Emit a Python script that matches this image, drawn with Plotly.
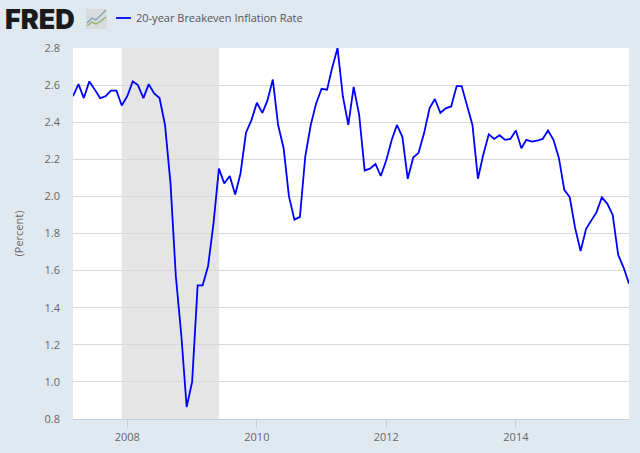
import pandas as pd
import plotly.graph_objects as go

# monthly readings, Mar 2007 - Oct 2015
startMonth = "2007-03-01"
endMonth = "2015-10-01"
rate = [
    2.54, 2.605, 2.53, 2.62, 2.577, 2.53, 2.54, 2.57, 2.57, 2.49,
    2.54, 2.62, 2.60, 2.53, 2.605, 2.555, 2.53, 2.385, 2.07, 1.57,
    1.25, 0.865, 1.0, 1.52, 1.52, 1.625, 1.85, 2.15, 2.07, 2.11,
    2.01, 2.125, 2.345, 2.41, 2.505, 2.45, 2.515, 2.63, 2.385, 2.26,
    2.0, 1.875, 1.89, 2.215, 2.385, 2.50, 2.58, 2.575, 2.69, 2.8,
    2.54, 2.385, 2.59, 2.44, 2.14, 2.15, 2.175, 2.11, 2.195, 2.305,
    2.385, 2.32, 2.095, 2.21, 2.235, 2.34, 2.475, 2.525, 2.45, 2.475,
    2.485, 2.595, 2.595, 2.485, 2.385, 2.095, 2.225, 2.335, 2.31, 2.33,
    2.305, 2.31, 2.355, 2.26, 2.305, 2.295, 2.30, 2.31, 2.355, 2.305,
    2.205, 2.035, 1.995, 1.83, 1.705, 1.825, 1.865, 1.915, 1.995, 1.96,
    1.90, 1.685, 1.615, 1.53,
]
months = pd.date_range(startMonth, periods=len(rate), freq="MS")

recessionStart = "2007-12-01"
recessionEnd = "2009-06-01"
seriesName = "20-year Breakeven Inflation Rate"
yTicks = [0.8, 1.0, 1.2, 1.4, 1.6, 1.8, 2.0, 2.2, 2.4, 2.6, 2.8]

W = 640
H = 453
marginL = 73
marginR = 10.5
marginT = 48
marginB = 34
bgColor = "#e1e9f0"
textColor = "#666666"
fontName = "Open Sans"


# paper coords run over the plot area, so convert from page pixels
def px(x):
    return (x - marginL) / (W - marginL - marginR)


def py(y):
    return 1 - (y - marginT) / (H - marginT - marginB)


fig = go.Figure()
fig.add_trace(go.Scatter(x=months, y=rate, mode="lines", name=seriesName,
                         line=dict(color="#0000ff", width=1.8), showlegend=False))

# recession band
fig.add_shape(type="rect", xref="x", yref="paper", x0=recessionStart, x1=recessionEnd,
              y0=0, y1=1, fillcolor="#e5e5e5", line_width=0, layer="below")

# legend key + label, drawn by hand since the plotly key is too long
fig.add_shape(type="line", xref="paper", yref="paper", x0=px(116), x1=px(131), y0=py(18), y1=py(18),
              line=dict(color="#0000ff", width=1.8))
fig.add_annotation(xref="paper", yref="paper", x=px(136), y=py(18), text=seriesName, showarrow=False,
                   xanchor="left", yanchor="middle", xshift=-2, font=dict(family=fontName, size=11, color="#555555"))

# logo
fig.add_annotation(xref="paper", yref="paper", x=px(5), y=py(19), text="FRED", showarrow=False,
                   xanchor="left", yanchor="middle", xshift=-2,
                   font=dict(family="Inter", size=27, weight=900, color="#1a1a1a"))
fig.add_shape(type="rect", xref="paper", yref="paper", x0=px(86), x1=px(107), y0=py(9), y1=py(29),
              fillcolor="#d8dcdc", line_width=0)
fig.add_shape(type="path", xref="paper", yref="paper",
              path=f"M {px(87)} {py(23)} L {px(92)} {py(18)} L {px(96)} {py(20)} L {px(101)} {py(15)} L {px(106)} {py(10)}",
              line=dict(color="#7f9fb5", width=1.2))
fig.add_shape(type="path", xref="paper", yref="paper",
              path=f"M {px(87)} {py(26)} L {px(92)} {py(22)} L {px(96)} {py(24)} L {px(101)} {py(21)} L {px(106)} {py(17)}",
              line=dict(color="#8fae6f", width=1.2))

fig.update_layout(
    width=W, height=H, autosize=False,
    margin=dict(l=marginL, r=marginR, t=marginT, b=marginB, pad=0),
    paper_bgcolor=bgColor, plot_bgcolor="#ffffff",
    font=dict(family=fontName, size=11, color=textColor),
    xaxis=dict(range=[startMonth, endMonth], tick0="2008-01-01", dtick="M24", tickformat="%Y",
               ticks="outside", ticklen=8, tickcolor="#c0d0e0", showgrid=False, automargin=False,
               showline=True, linecolor="#c0d0e0", linewidth=1, zeroline=False),
    yaxis=dict(range=[0.8, 2.8], tickvals=yTicks, tickformat=".1f", ticks="", showgrid=True,
               gridcolor="#d9d9d9", gridwidth=1, zeroline=False, showline=False, automargin=False,
               ticklabelstandoff=12,
               title=dict(text="(Percent)", font=dict(size=11, color=textColor), standoff=18)),
)

# the page's default body margin would shift the chart by 8px
fig.write_html("out.html", config=dict(displayModeBar=False),
               post_script="document.body.style.margin='0';document.body.style.overflow='hidden';")
